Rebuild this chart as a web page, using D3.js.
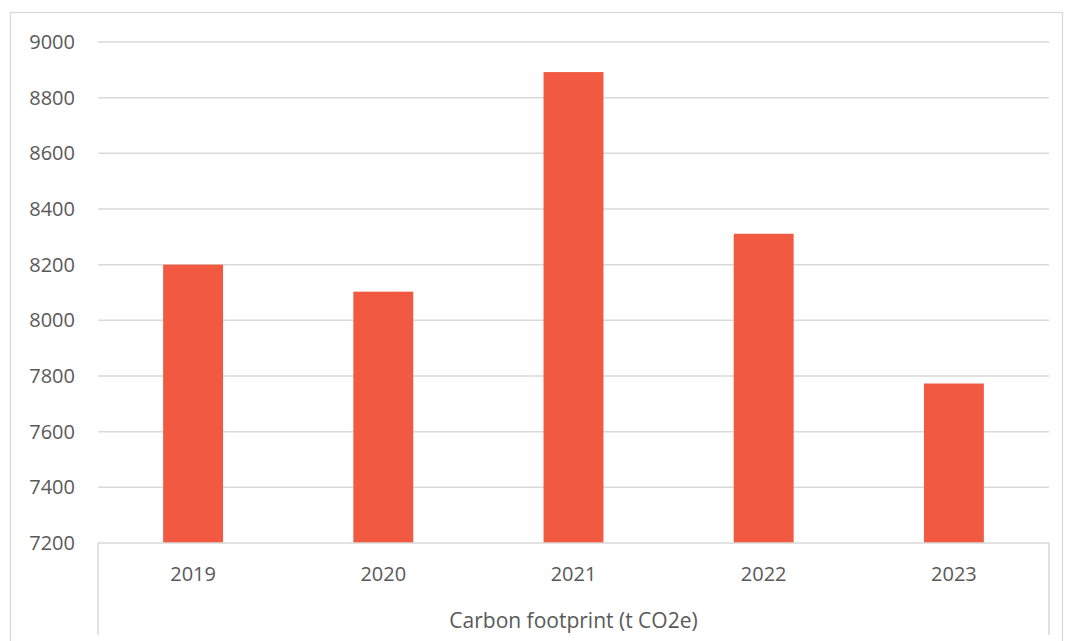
<!DOCTYPE html>
<html>
<head>
<meta charset="utf-8">
<script src="https://cdn.jsdelivr.net/npm/d3@7"></script>
<style>
  body { margin: 0; background: #fff; }
  svg { display: block; font-family: "Open Sans", "Liberation Sans", sans-serif; }
</style>
</head>
<body>
<div id="chart"></div>
<script>
const years = ["2019", "2020", "2021", "2022", "2023"];
const footprint = [8200, 8103, 8892, 8311, 7773];
const yTicks = [7200, 7400, 7600, 7800, 8000, 8200, 8400, 8600, 8800, 9000];
const groupLabel = "Carbon footprint (t CO2e)";

const WIDTH = 1065, HEIGHT = 641;
const PLOT = { LEFT: 98, RIGHT: 1049, TOP: 42, BOTTOM: 543 };
const GRID = "#d9d9d9";
const TEXT = "#595959";

const svg = d3.select("#chart").append("svg")
  .attr("width", WIDTH)
  .attr("height", HEIGHT);

// chart border
svg.append("rect")
  .attr("x", 10.5).attr("y", 12.5)
  .attr("width", 1052).attr("height", 640)
  .attr("fill", "none").attr("stroke", GRID).attr("stroke-width", 1.3);

const x = d3.scaleBand()
  .domain(years)
  .range([PLOT.LEFT, PLOT.RIGHT])
  .paddingInner(0.685).paddingOuter(0.3425);

const y = d3.scaleLinear()
  .domain([7200, 9000])
  .range([PLOT.BOTTOM, PLOT.TOP]);

// gridlines
svg.append("g").selectAll("line")
  .data(yTicks.slice(1))
  .enter().append("line")
  .attr("x1", PLOT.LEFT).attr("x2", PLOT.RIGHT)
  .attr("y1", d => y(d)).attr("y2", d => y(d))
  .attr("stroke", GRID).attr("stroke-width", 1.5);

// y labels
svg.append("g").selectAll("text")
  .data(yTicks)
  .enter().append("text")
  .attr("x", 75).attr("y", d => y(d))
  .attr("dy", "0.35em")
  .attr("text-anchor", "end")
  .attr("fill", TEXT)
  .style("font-size", "20px")
  .text(d => d);

// bars
svg.append("g").selectAll("rect")
  .data(footprint)
  .enter().append("rect")
  .attr("x", (d, i) => x(years[i]))
  .attr("width", x.bandwidth())
  .attr("y", d => y(d))
  .attr("height", d => y(7200) - y(d))
  .attr("fill", "#f15a40");

// category axis (multi-level style)
const axis = svg.append("g").attr("stroke", GRID).attr("stroke-width", 1.5);
axis.append("line")
  .attr("x1", PLOT.LEFT).attr("x2", PLOT.RIGHT)
  .attr("y1", PLOT.BOTTOM).attr("y2", PLOT.BOTTOM);
axis.selectAll("line.edge")
  .data([PLOT.LEFT, PLOT.RIGHT])
  .enter().append("line")
  .attr("class", "edge")
  .attr("x1", d => d).attr("x2", d => d)
  .attr("y1", PLOT.BOTTOM).attr("y2", 635);

svg.append("g").selectAll("text")
  .data(years)
  .enter().append("text")
  .attr("x", d => x(d) + x.bandwidth() / 2)
  .attr("y", 574)
  .attr("dy", "0.35em")
  .attr("text-anchor", "middle")
  .attr("fill", TEXT)
  .style("font-size", "20px")
  .text(d => d);

svg.append("text")
  .attr("x", (PLOT.LEFT + PLOT.RIGHT) / 2)
  .attr("y", 621)
  .attr("dy", "0.35em")
  .attr("text-anchor", "middle")
  .attr("fill", TEXT)
  .style("font-size", "21px")
  .text(groupLabel);
</script>
</body>
</html>
